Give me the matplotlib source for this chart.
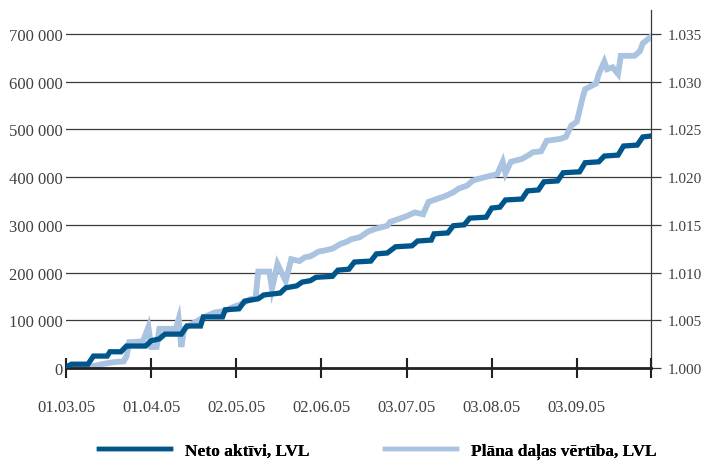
import matplotlib
matplotlib.use("Agg")
import matplotlib.pyplot as plt
import pandas as pd

# Neto aktivi, LVL (left axis)
net_dates = [
    "2005-03-01", "2005-03-03", "2005-03-09", "2005-03-11", "2005-03-16", "2005-03-17",
    "2005-03-21", "2005-03-23", "2005-03-30", "2005-04-01", "2005-04-04", "2005-04-06",
    "2005-04-12", "2005-04-14", "2005-04-19", "2005-04-20", "2005-04-27", "2005-04-28",
    "2005-05-03", "2005-05-05", "2005-05-10", "2005-05-12", "2005-05-18", "2005-05-20",
    "2005-05-24", "2005-05-26", "2005-05-29", "2005-05-31", "2005-06-06", "2005-06-08",
    "2005-06-12", "2005-06-14", "2005-06-20", "2005-06-22", "2005-06-26", "2005-06-29",
    "2005-07-05", "2005-07-07", "2005-07-12", "2005-07-13", "2005-07-18", "2005-07-20",
    "2005-07-24", "2005-07-26", "2005-08-01", "2005-08-03", "2005-08-06", "2005-08-08",
    "2005-08-14", "2005-08-16", "2005-08-20", "2005-08-22", "2005-08-27", "2005-08-29",
    "2005-09-04", "2005-09-06", "2005-09-11", "2005-09-13", "2005-09-18", "2005-09-20",
    "2005-09-25", "2005-09-27", "2005-09-30",
]
net_values = [
    2000, 8000, 8000, 25000, 25000, 34000,
    34000, 46000, 46000, 57000, 61000, 71000,
    71000, 88000, 88000, 107000, 107000, 122000,
    124000, 140000, 145000, 153000, 157000, 168000,
    172000, 180000, 183000, 190000, 192000, 205000,
    207000, 222000, 224000, 239000, 241000, 254000,
    256000, 266000, 268000, 281000, 283000, 298000,
    300000, 314000, 316000, 335000, 337000, 352000,
    354000, 371000, 373000, 390000, 392000, 409000,
    411000, 430000, 432000, 444000, 446000, 465000,
    467000, 484000, 486000,
]

# Plana dalas vertiba, LVL (right axis)
unit_dates = [
    "2005-03-01", "2005-03-02", "2005-03-10", "2005-03-11", "2005-03-14", "2005-03-18",
    "2005-03-22", "2005-03-23", "2005-03-24", "2005-03-29", "2005-03-31", "2005-04-01",
    "2005-04-03", "2005-04-04", "2005-04-10", "2005-04-11", "2005-04-12", "2005-04-13",
    "2005-04-17", "2005-04-20", "2005-04-24", "2005-04-28", "2005-05-01", "2005-05-04",
    "2005-05-07", "2005-05-09", "2005-05-10", "2005-05-14", "2005-05-15", "2005-05-17",
    "2005-05-20", "2005-05-22", "2005-05-25", "2005-05-27", "2005-05-29", "2005-06-01",
    "2005-06-03", "2005-06-06", "2005-06-09", "2005-06-11", "2005-06-13", "2005-06-16",
    "2005-06-19", "2005-06-22", "2005-06-26", "2005-06-27", "2005-06-30", "2005-07-03",
    "2005-07-06", "2005-07-09", "2005-07-11", "2005-07-14", "2005-07-17", "2005-07-20",
    "2005-07-22", "2005-07-25", "2005-07-27", "2005-07-29", "2005-08-02", "2005-08-05",
    "2005-08-07", "2005-08-08", "2005-08-10", "2005-08-14", "2005-08-17", "2005-08-18",
    "2005-08-21", "2005-08-23", "2005-08-28", "2005-08-30", "2005-09-01", "2005-09-03",
    "2005-09-05", "2005-09-06", "2005-09-10", "2005-09-11", "2005-09-13", "2005-09-14",
    "2005-09-16", "2005-09-18", "2005-09-19", "2005-09-24", "2005-09-26", "2005-09-27",
    "2005-09-30",
]
unit_values = [
    1.0000, 1.0000, 1.0000, 1.0002, 1.0004, 1.0006,
    1.0007, 1.0012, 1.0027, 1.0028, 1.0043, 1.0022,
    1.0022, 1.0041, 1.0041, 1.0051, 1.0022, 1.0041,
    1.0048, 1.0053, 1.0058, 1.0060, 1.0064, 1.0067,
    1.0072, 1.0073, 1.0101, 1.0101, 1.0083, 1.0109,
    1.0091, 1.0114, 1.0112, 1.0116, 1.0117, 1.0122,
    1.0123, 1.0125, 1.0130, 1.0132, 1.0135, 1.0137,
    1.0143, 1.0146, 1.0149, 1.0153, 1.0156, 1.0159,
    1.0163, 1.0161, 1.0174, 1.0177, 1.0180, 1.0184,
    1.0188, 1.0191, 1.0196, 1.0198, 1.0201, 1.0203,
    1.0216, 1.0204, 1.0216, 1.0219, 1.0224, 1.0226,
    1.0227, 1.0238, 1.0240, 1.0242, 1.0254, 1.0258,
    1.0282, 1.0292, 1.0298, 1.0308, 1.0321, 1.0313,
    1.0315, 1.0308, 1.0327, 1.0327, 1.0332, 1.0340,
    1.0347,
]

tick_dates = ["2005-03-01", "2005-04-01", "2005-05-02", "2005-06-02",
              "2005-07-03", "2005-08-03", "2005-09-03", "2005-09-30"]
tick_labels = ["01.03.05", "01.04.05", "02.05.05", "02.06.05",
               "03.07.05", "03.08.05", "03.09.05", ""]
left_ticks = [0, 100000, 200000, 300000, 400000, 500000, 600000, 700000]
left_labels = ["0", "100 000", "200 000", "300 000", "400 000", "500 000", "600 000", "700 000"]
right_ticks = [1.000, 1.005, 1.010, 1.015, 1.020, 1.025, 1.030, 1.035]
series_names = ["Neto aktīvi, LVL", "Plāna daļas vērtība, LVL"]

DARK = "#00568a"
LIGHT = "#aac3e0"
GRID = "#3a3a3a"
TEXT = "#404040"

plt.rcParams["font.family"] = ["Liberation Serif", "DejaVu Serif"]

fig = plt.figure(figsize=(7.05, 4.64), dpi=100)
ax = fig.add_axes([66 / 705, 1 - 369 / 464, (651 - 66) / 705, (369 - 11) / 464])
ax2 = ax.twinx()

# light series on the back axis, dark one in front
ax.set_zorder(ax2.get_zorder() + 1)
ax.patch.set_visible(False)

ax2.plot(pd.to_datetime(unit_dates), unit_values, color=LIGHT, linewidth=4.2,
         solid_joinstyle="miter", zorder=3)
ax.plot(pd.to_datetime(net_dates), net_values, color=DARK, linewidth=3.8,
        solid_joinstyle="miter", zorder=3)

ax.set_xlim(pd.Timestamp("2005-03-01"), pd.Timestamp("2005-09-30"))
ax.set_ylim(0, 750000)
ax2.set_ylim(1.0, 1.0375)

ax2.set_yticks(right_ticks)
ax2.set_yticklabels([f"{v:.3f}" for v in right_ticks])
ax2.grid(True, axis="y", color=GRID, linewidth=0.9)
ax2.set_axisbelow(True)
ax2.tick_params(axis="y", direction="out", length=7, width=0.9, color=GRID,
                pad=5, labelsize=11, labelcolor=TEXT)

ax.set_yticks(left_ticks)
ax.set_yticklabels(left_labels)
ax.tick_params(axis="y", length=0, pad=2.5, labelsize=12, labelcolor=TEXT)

ax.set_xticks(pd.to_datetime(tick_dates))
ax.set_xticklabels(tick_labels)
ax.tick_params(axis="x", direction="inout", length=14, width=1.5, color="#222222",
               pad=15, labelsize=12, labelcolor=TEXT)

for name in ["top", "left", "right"]:
    ax.spines[name].set_visible(False)
ax.spines["bottom"].set_linewidth(2.0)
ax.spines["bottom"].set_color("#222222")
for name in ["top", "left", "bottom"]:
    ax2.spines[name].set_visible(False)
ax2.spines["right"].set_linewidth(0.9)
ax2.spines["right"].set_color(GRID)

# one legend per entry so each sits where the reference puts it
for color, name, x0 in [(DARK, series_names[0], 99 / 705), (LIGHT, series_names[1], 385 / 705)]:
    leg = fig.legend([plt.Line2D([], [], color=color, linewidth=3.2)], [name],
                     loc="center left", bbox_to_anchor=(x0, 0.026), frameon=False,
                     prop={"weight": "bold", "size": 12.5}, handlelength=4.15,
                     handletextpad=0.8, borderpad=0, borderaxespad=0)
    fig.add_artist(leg)

fig.savefig("out.png", dpi=100, facecolor="white")
